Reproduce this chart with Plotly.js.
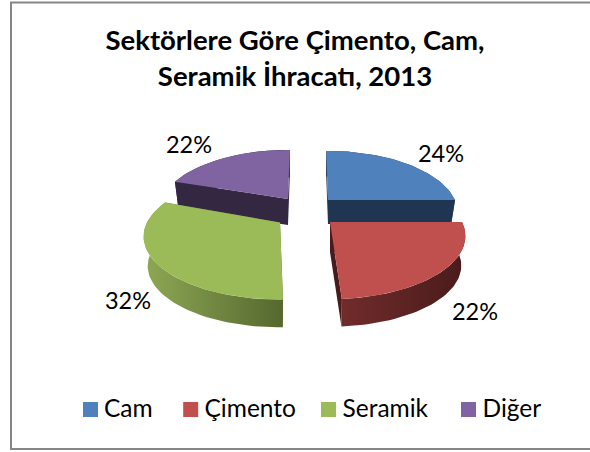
<!DOCTYPE html>
<html>
<head>
<meta charset="utf-8">
<script src="https://cdn.plot.ly/plotly-3.0.1.min.js"></script>
<style>html,body{margin:0;padding:0;background:#fff}#chart{width:590px;height:452px}</style>
</head>
<body>
<div id="chart"></div>
<script>
// Data
const categories = ['Cam', 'Çimento', 'Seramik', 'Diğer'];
const percents = [24, 22, 32, 22];
const titleText = 'Sektörlere Göre Çimento, Cam,<br>Seramik İhracatı, 2013';

// Colours
const topColors = ['#4F81BD', '#C0504D', '#9BBB59', '#8064A2'];
const edgeColors = ['#1F3551', '#4A1B1B', '#55682F', '#332742'];
const wallFrom = ['#1F3551', '#702C2B', '#8EA854', '#332742'];
const wallTo = ['#1F3551', '#4A1B1B', '#55682F', '#332742'];

// View of the tilted pie (the picture's perspective drawing)
const apexX = [328, 330, 280, 288];
const apexY = [200, 222, 222.5, 199];
const radiusX = [127, 132, 133, 127];
const radiusY = 60;
const perspective = 0.222;
const wallDepth = [24, 30, 30, 26];
const wallShrink = 0.97;
const startSkew = [-1, 3.6, 13.4, 7.2];
const endSkew = [3.6, 10.4, 10.2, 1];
const drawOrder = [0, 3, 1, 2];
const labelX = [441, 475, 128, 189];
const labelY = [156.5, 314.5, 303, 147.5];
const legendSwatchX = [90.5, 190.7, 328.5, 468.5];
const legendTextX = [104, 204.5, 342.5, 482.5];
const legendY = 410.5;
const FONT = 'Lato, Carlito, Calibri, sans-serif';

const total = percents.reduce((a, b) => a + b, 0);
let run = 0;
const startDeg = [], endDeg = [];
percents.forEach((p, i) => {
  startDeg.push(run / total * 360 + startSkew[i]);
  run += p;
  endDeg.push(run / total * 360 + endSkew[i]);
});

function topPoint(i, deg) {
  const t = deg * Math.PI / 180, u = Math.sin(t), v = -Math.cos(t), w = 1 - perspective * v;
  return [apexX[i] + radiusX[i] * u / w, apexY[i] + radiusY * v / w];
}
function lowPoint(i, deg) {
  const p = topPoint(i, deg);
  return [apexX[i] + (p[0] - apexX[i]) * wallShrink, apexY[i] + (p[1] - apexY[i]) * wallShrink + wallDepth[i]];
}
function arc(fn, i) {
  const pts = [], n = Math.ceil((endDeg[i] - startDeg[i]) / 2);
  for (let k = 0; k <= n; k++) pts.push(fn(i, startDeg[i] + (endDeg[i] - startDeg[i]) * k / n));
  return pts;
}
function poly(pts, extra) {
  return Object.assign({
    x: pts.map(p => p[0]), y: pts.map(p => p[1]), type: 'scatter', mode: 'lines',
    fill: 'toself', line: {width: 0}, hoverinfo: 'skip', showlegend: false
  }, extra);
}

const traces = [];
drawOrder.forEach(i => {
  const apexTop = [apexX[i], apexY[i]], apexLow = [apexX[i], apexY[i] + wallDepth[i]];
  const topArc = arc(topPoint, i), lowArc = arc(lowPoint, i);
  const a = topArc[0], aLow = lowArc[0], b = topArc[topArc.length - 1], bLow = lowArc[lowArc.length - 1];
  traces.push(poly([a, apexTop, apexLow, aLow, a], {fillcolor: edgeColors[i]}));
  traces.push(poly([b, apexTop, apexLow, bLow, b], {fillcolor: edgeColors[i]}));
  const xs = topArc.map(p => p[0]);
  traces.push(poly(topArc.concat(lowArc.slice().reverse()), {
    fillcolor: wallTo[i],
    fillgradient: {
      type: 'horizontal',
      colorscale: [[0, wallFrom[i]], [1, wallTo[i]]],
      start: Math.min(...xs),
      stop: Math.max(...xs)
    }
  }));
  traces.push(poly([apexTop].concat(topArc, [apexTop]), {fillcolor: topColors[i], name: categories[i]}));
});

traces.push({
  x: labelX, y: labelY, type: 'scatter', mode: 'text',
  text: percents.map(p => p + '%'), textposition: 'middle center',
  textfont: {family: FONT, size: 23.5, color: '#000'}, hoverinfo: 'skip', showlegend: false
});
// Legend row
traces.push({
  x: legendSwatchX, y: categories.map(() => 409.5), type: 'scatter', mode: 'markers',
  marker: {symbol: 'square', size: 15, color: topColors, line: {width: 0}},
  hoverinfo: 'skip', showlegend: false, name: 'legend swatches'
});
traces.push({
  x: legendTextX, y: categories.map(() => legendY), type: 'scatter', mode: 'text',
  text: categories, textposition: 'middle right',
  textfont: {family: FONT, size: 24.5, color: '#000'}, hoverinfo: 'skip', showlegend: false
});

const layout = {
  width: 590, height: 452, margin: {l: 0, r: 0, t: 0, b: 0},
  paper_bgcolor: '#fff', plot_bgcolor: '#fff',
  title: {
    text: titleText, x: 0.5, xanchor: 'center', y: 0.889, yanchor: 'top', yref: 'container',
    font: {family: FONT, size: 27.5, color: '#000', weight: 'bold'}
  },
  xaxis: {range: [0, 590], visible: false, fixedrange: true},
  yaxis: {range: [452, 0], visible: false, fixedrange: true},
  showlegend: false,
  shapes: [{
    type: 'rect', xref: 'x', yref: 'y', x0: 11, x1: 640, y0: 2.5, y1: 449,
    line: {color: '#868686', width: 2}, fillcolor: 'rgba(0,0,0,0)', layer: 'below'
  }]
};
Plotly.newPlot('chart', traces, layout, {displayModeBar: false, staticPlot: true});
</script>
</body>
</html>
